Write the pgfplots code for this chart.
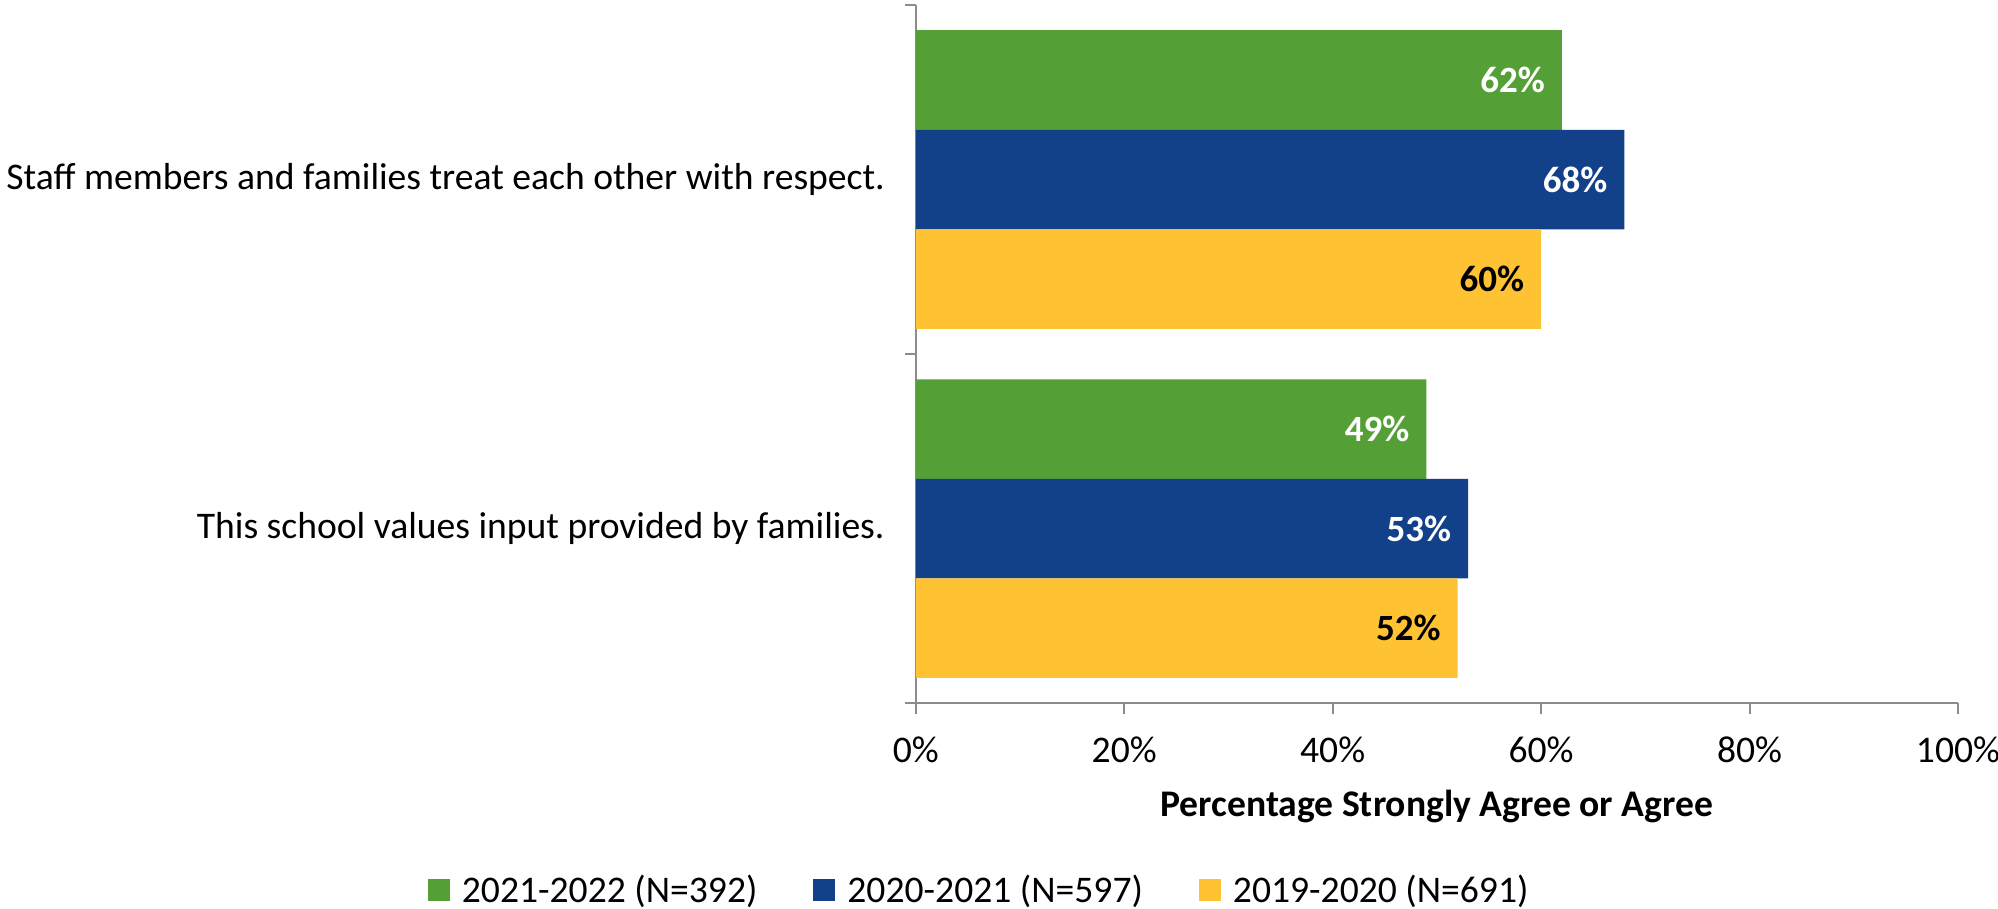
\documentclass[border=0pt]{standalone}
\usepackage{pgfplots}
\pgfplotsset{compat=1.18}
\usepackage{fontspec}
\setmainfont{Carlito}
\definecolor{cgreen}{RGB}{84,160,54}
\definecolor{cblue}{RGB}{18,65,137}
\definecolor{cyellow}{RGB}{255,194,50}
\definecolor{axgray}{RGB}{140,140,140}
\begin{document}
\begin{tikzpicture}[font=\fontsize{18.8}{22}\selectfont]
\begin{axis}[
  at={(0,0)}, anchor=south west,
  scale only axis, width=521pt, height=349pt,
  xbar, bar width=49.75pt,
  xmin=0, xmax=100, ymin=-0.5, ymax=1.5,
  /pgf/number format/assume math mode=true,
  axis x line*=bottom, axis y line*=left,
  axis line style={-, draw=axgray, line width=1pt},
  every tick/.style={draw=axgray, line width=1pt},
  tick align=outside, major tick length=5.5pt,
  xtick={0,20,40,60,80,100},
  xticklabels={0\%,20\%,40\%,60\%,80\%,100\%},
  xticklabel style={anchor=center, yshift=-18pt},
  ytick={-0.5,0.5,1.5}, yticklabels={},
  extra y ticks={0,1},
  extra y tick labels={This school values input provided by families.,Staff members and families treat each other with respect.},
  extra y tick style={major tick length=0pt, yticklabel style={anchor=east, xshift=-12pt}},
  xlabel={\bfseries Percentage Strongly Agree or Agree},
  xlabel style={at={(axis description cs:0.5,0)}, anchor=center, yshift=-51.5pt},
  nodes near coords={\pgfmathprintnumber{\pgfplotspointmeta}\%},
  nodes near coords style={anchor=east, xshift=-5pt, font=\fontsize{18.5}{22}\selectfont\bfseries},
  legend columns=3,
  legend style={draw=none, at={(axis description cs:0.0618,-0.268)}, anchor=center,
    /tikz/every odd column/.append style={column sep=4pt},
    /tikz/every even column/.append style={column sep=26pt}},
  legend image code/.code={\fill[#1] (0pt,-5.5pt) rectangle (11pt,5.5pt);},
]
\addplot[fill=cgreen, draw=none, bar shift=49.75pt, nodes near coords style={text=white}] coordinates {(49,0) (62,1)};
\addlegendentry{2021-2022 (N=392)}
\addplot[fill=cblue, draw=none, bar shift=0pt, nodes near coords style={text=white}] coordinates {(53,0) (68,1)};
\addlegendentry{2020-2021 (N=597)}
\addplot[fill=cyellow, draw=none, bar shift=-49.75pt, nodes near coords style={text=black}] coordinates {(52,0) (60,1)};
\addlegendentry{2019-2020 (N=691)}
\end{axis}
\pgfresetboundingbox
\path (-457.8pt,-102.5pt) rectangle (541pt,351.5pt);
\end{tikzpicture}
\end{document}
